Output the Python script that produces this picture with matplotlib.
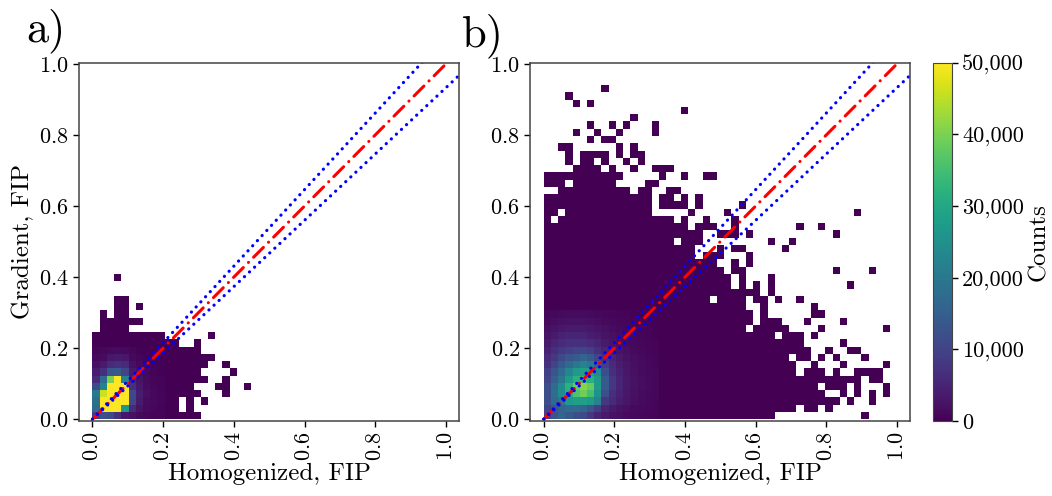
import numpy as np
import matplotlib
matplotlib.use('Agg')
import matplotlib.pyplot as plt
from matplotlib.colors import Normalize
from matplotlib.cm import ScalarMappable

plt.rcParams['font.family']='cmr10'
plt.rcParams['axes.unicode_minus']=False
plt.rcParams['axes.formatter.use_mathtext']=True
plt.rcParams['lines.scale_dashes']=False

W,H=1052.0,496.0
n_bins=50
bin_width=0.02044 #both histograms use the same bins
fill_count=0.1 #counts (thousands) in the sparse cells, all look the same dark purple

#occupied cells per row, from the bottom row up, as (first column, last column)
cells_a=[[(0,14)],
[(0,11),(13,13)],
[(0,11),(13,13),(15,15)],
[(0,14),(18,18)],
[(0,13),(17,18),(21,21)],
[(0,15),(18,18)],
[(0,14),(19,19)],
[(0,15),(18,18)],
[(0,16)],
[(0,14)],
[(0,11),(14,14)],
[(0,9),(16,16)],
[(1,4)],
[(1,6)],
[(1,1),(3,4)],
[(3,4),(6,6)],
[(3,4)],
[],
[],
[(3,3)]]

cells_b=[[(0,31),(44,44)],
[(0,34),(36,37),(39,39)],
[(0,40),(42,42),(45,45)],
[(0,38),(41,41),(43,43),(45,45),(47,47)],
[(0,37),(39,41),(43,43),(47,47)],
[(0,43),(45,46)],
[(0,34),(36,38),(40,40),(43,46)],
[(0,34),(37,37),(41,41),(47,47)],
[(0,33),(35,36),(38,38),(40,40),(44,44)],
[(0,36),(39,39),(42,43)],
[(0,35),(41,41)],
[(0,31),(33,35),(37,37)],
[(0,27),(29,33),(38,38),(47,47)],
[(0,28),(30,32),(36,36),(41,41)],
[(0,28),(30,30),(37,38)],
[(0,27),(30,30),(37,37)],
[(0,22),(24,27),(29,30),(32,32),(35,35)],
[(0,29),(31,31)],
[(0,25),(27,27),(29,29),(31,31),(42,42)],
[(0,25),(27,27),(31,31)],
[(0,24),(26,27),(40,40),(45,45)],
[(0,23),(26,26),(28,28)],
[(0,20),(22,24),(28,28)],
[(0,20),(24,24),(26,27),(33,33)],
[(0,17),(19,21),(31,31),(34,34)],
[(0,21),(24,26),(28,28),(40,40)],
[(0,19),(21,23),(26,26),(35,35),(38,38)],
[(0,0),(2,17),(19,19),(22,22),(26,26)],
[(0,1),(3,14),(20,20),(25,25),(43,43)],
[(0,14),(16,19),(21,21),(27,27)],
[(0,14),(16,17),(19,19),(21,21)],
[(2,11),(13,14),(17,18)],
[(0,2),(4,9),(14,15)],
[(0,10),(16,16),(19,19),(22,23)],
[(4,7),(9,9),(12,12),(15,17)],
[(3,3),(5,6),(8,8),(11,11),(13,13)],
[(3,3),(5,8),(10,10),(12,13)],
[(2,3),(10,10),(12,12)],
[(6,6),(8,9)],
[(4,4),(7,7),(10,10),(15,15)],
[(6,6),(9,9),(11,11),(15,15)],
[(12,12)],
[(19,19)],
[(4,4),(6,6)],
[(3,3)],
[(8,8)]]

#counts in thousands near the peak, bottom row first
core_a=[[9,12,11,7,3,2,1.2,.8,.5,.4],
[17,52,52,52,26,6,2.5,1.2,.8,.5],
[18,52,52,52,52,10,3.5,1.5,1,.6],
[20,46,52,52,52,11,4,1.8,1,.6],
[11,22,52,52,52,7,3,1.5,.8,.5],
[6,17,40,52,22,5,2.5,1.2,.7,.4],
[4,7,13,14,10,3.5,1.8,1,.5,.3],
[2,3.5,6,7,6,2,1.2,.6,.3,.2],
[1,1.5,3,3.5,3,1.2,.6,.3,.2,.1],
[.4,.8,1.2,1.5,1.2,.6,.3,.2,.1,.1]]

core_b=[[9,13,16,14,12,11,8,5,3.5,2.5,2,1.5,1.1,.9,.7,.5],
[10,13,16,17,17,16,13,9,5,3.5,2.5,1.8,1.3,1,.8,.6],
[12,17,20,27,28,28,27,22,8,6,4,2.8,1.9,1.4,1,.7],
[12,18,24,31,36,39,35,25,12,7,4.5,3,2.1,1.5,1.1,.8],
[12,17,24,32,38,41,38,27,14,8,5,3.3,2.3,1.6,1.2,.8],
[10,15,20,27,32,34,32,27,14,8,5,3.3,2.3,1.6,1.2,.8],
[9,13,17,23,27,28,28,24,12,7,4.5,3,2.1,1.5,1.1,.8],
[7,10,14,17,20,22,20,15,9,6,4,2.8,1.9,1.4,1,.7],
[6,8,11,13,14,16,14,10,7,5,3.2,2.3,1.7,1.2,.9,.6],
[4.5,6.5,8,9,10,10,9,7,5,3.5,2.5,1.8,1.3,1,.7,.5],
[3.5,5,6,7,7,7,6,5,3.5,2.5,1.8,1.3,1,.8,.6,.4],
[2.5,3.5,4.5,5,5,5,4,3.5,2.5,2,1.4,1,.8,.6,.5,.3],
[1.8,2.5,3,3.5,3.5,3.5,3,2.5,2,1.4,1,.8,.6,.5,.4,.3],
[1.2,1.7,2,2.3,2.3,2.3,2,1.7,1.3,1,.8,.6,.5,.4,.3,.2],
[.8,1.1,1.3,1.5,1.5,1.5,1.3,1.1,.9,.7,.5,.4,.3,.3,.2,.2]]

fip_ticks=[0.0,0.2,0.4,0.6,0.8,1.0]
cbar_ticks=[0,10000,20000,30000,40000,50000]
cbar_labels=['0','10,000','20,000','30,000','40,000','50,000']

ref_x=[0.0,1.0]
band_x=[0.0,1.1]
upper_slope=1.077
lower_slope=0.933

def build_grid(cells,core):
    z=np.full((n_bins,n_bins),np.nan)
    for r,runs in enumerate(cells):
        for first,last in runs:
            z[r,first:last+1]=fill_count*1000
    core=np.array(core)*1000
    for r in range(core.shape[0]):
        for c in range(core.shape[1]):
            if not np.isnan(z[r,c]):
                z[r,c]=core[r,c]
    return z

def box(left,top,right,bottom):
    #pixel box to figure fractions
    return [left/W,1-bottom/H,(right-left)/W,(bottom-top)/H]

fig=plt.figure(figsize=(W/100,H/100),dpi=100)
ax1=fig.add_axes(box(79,62.5,459,421))
ax2=fig.add_axes(box(530.3,62.5,910,421))
cax=fig.add_axes(box(933.3,62.5,951.7,421))

edges=np.arange(n_bins+1)*bin_width
norm=Normalize(vmin=0,vmax=50000)

for ax,cells,core in [(ax1,cells_a,core_a),(ax2,cells_b,core_b)]:
    ax.pcolormesh(edges,edges,build_grid(cells,core),cmap='viridis',norm=norm,rasterized=True)
    ax.plot(ref_x,ref_x,color='red',lw=2.2,linestyle=(19.8,(10.0,5.2,0.1,5.18)),dash_capstyle='round')
    ax.plot(band_x,np.array(band_x)*upper_slope,color='blue',lw=2.3,linestyle=(0,(0.1,4.9)),dash_capstyle='round')
    ax.plot(band_x,np.array(band_x)*lower_slope,color='blue',lw=2.3,linestyle=(0,(0.1,4.9)),dash_capstyle='round')
    ax.set_xlim(-0.038,1.037)
    ax.set_ylim(-0.005,1.004)
    ax.set_xticks(fip_ticks)
    ax.set_yticks(fip_ticks)
    ax.tick_params(labelsize=16,length=4,width=1)
    ax.tick_params(axis='x',labelrotation=90)
    ax.set_xlabel('Homogenized, FIP',fontsize=18,labelpad=1)
    for s in ax.spines.values():
        s.set_color('#444444')
        s.set_linewidth(1.1)

ax1.set_ylabel('Gradient, FIP',fontsize=18,labelpad=3)

cb=fig.colorbar(ScalarMappable(norm=norm,cmap='viridis'),cax=cax)
cb.set_ticks(cbar_ticks)
cb.set_ticklabels(cbar_labels)
cb.ax.tick_params(labelsize=16,length=4,width=1)
cb.set_label('Counts',fontsize=18,labelpad=3)
cb.outline.set_edgecolor('#444444')

fig.text(26/W,1-41/H,'a)',fontsize=32,ha='left',va='baseline')
fig.text(462/W,1-46/H,'b)',fontsize=32,ha='left',va='baseline')

fig.savefig('out.png',dpi=100)
